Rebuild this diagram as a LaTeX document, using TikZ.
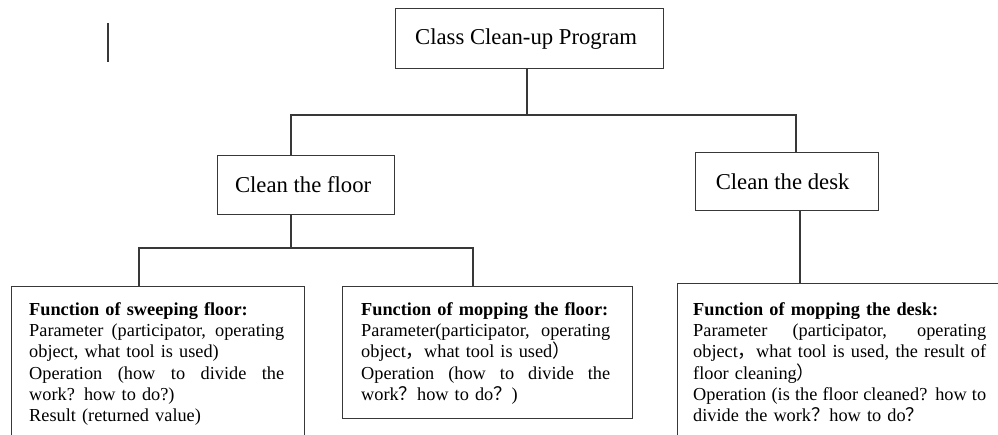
\documentclass[tikz,border=0pt]{standalone}
\usepackage{fontspec}
\setmainfont{Liberation Serif}
\newfontfamily\cjkfont{Noto Sans CJK SC}
\newcommand\fw[1]{{\cjkfont #1}}
\newcommand\jline[2]{\makebox[#1][s]{\spaceskip=0pt\xspaceskip=0pt #2}}
\begin{document}
\begin{tikzpicture}[x=1pt,y=-1pt,
  conn/.style={draw=black!78, line width=1.2pt},
  titlebox/.style={draw=black!78, line width=1.2pt, inner sep=0pt, anchor=north west,
    font=\fontsize{22.7}{26}\selectfont},
  funcbox/.style={draw=black!78, line width=1.2pt, inner sep=0pt, anchor=north west},
  functext/.style={anchor=north west, inner sep=0pt, align=left,
    font=\fontsize{18.3}{21.3}\selectfont},
]
\useasboundingbox (0,0) rectangle (998,435);
\clip (0,0) rectangle (998,435);

% stray cursor mark
\coordinate (cura) at (108,23);
\coordinate (curb) at (108,62);
\draw[conn, line width=1.5pt] (cura) -- (curb);

% title boxes
\node[titlebox, minimum width=268pt, minimum height=60pt] (top) at (395,8) {Class Clean-up Program\hspace*{7pt}};
\node[titlebox, minimum width=177pt, minimum height=59pt] (floor) at (217,155) {Clean the floor\hspace*{6pt}};
\node[titlebox, minimum width=183pt, minimum height=58pt] (desk) at (695,152) {Clean the desk\hspace*{9pt}};

% function boxes
\node[funcbox, minimum width=293pt, minimum height=170pt] (sweep) at (11,286) {};
\node[funcbox, minimum width=290pt, minimum height=132pt] (mopf) at (342,286) {};
\node[funcbox, minimum width=340pt, minimum height=170pt] (mopd) at (677,283) {};

\node[functext, text width=255pt] (sweeptext) at (29,300) {\strut\mbox{\textbf{Function of sweeping floor:}}\\
\jline{255pt}{Parameter (participator, operating}\\
object, what tool is used)\\
\jline{255pt}{Operation (how to divide the}\\
work? how to do?)\\
Result (returned value)};

\node[functext, text width=249pt] (mopftext) at (361,300) {\strut\mbox{\textbf{Function of mopping the floor:}}\\
\jline{249pt}{Parameter(participator, operating}\\
object\fw{，}what tool is used\fw{）}\\
\jline{249pt}{Operation (how to divide the}\\
work\fw{？}how to do\fw{？})};

\node[functext, text width=293pt] (mopdtext) at (693,300) {\strut\mbox{\textbf{Function of mopping the desk:}}\\
\jline{293pt}{Parameter (participator, operating}\\
\jline{293pt}{object\fw{，}what tool is used, the result of}\\
floor cleaning\fw{）}\\
\jline{293pt}{Operation (is the floor cleaned? how to}\\
divide the work\fw{？}how to do\fw{？}};

% connectors
\coordinate (j1) at (527,115);
\coordinate (jl) at (291,115);
\coordinate (jr) at (796,115);
\draw[conn] (j1 |- top.south) -- (j1);
\draw[conn] (jl |- floor.north) -- (jl) -- (jr) -- (jr |- desk.north);

\coordinate (k1) at (291,248);
\coordinate (kl) at (139,248);
\coordinate (kr) at (473,248);
\draw[conn] (k1 |- floor.south) -- (k1);
\draw[conn] (kl |- sweep.north) -- (kl) -- (kr) -- (kr |- mopf.north);

\coordinate (dx) at (800,248);
\draw[conn] (dx |- desk.south) -- (dx |- mopd.north);
\end{tikzpicture}
\end{document}
